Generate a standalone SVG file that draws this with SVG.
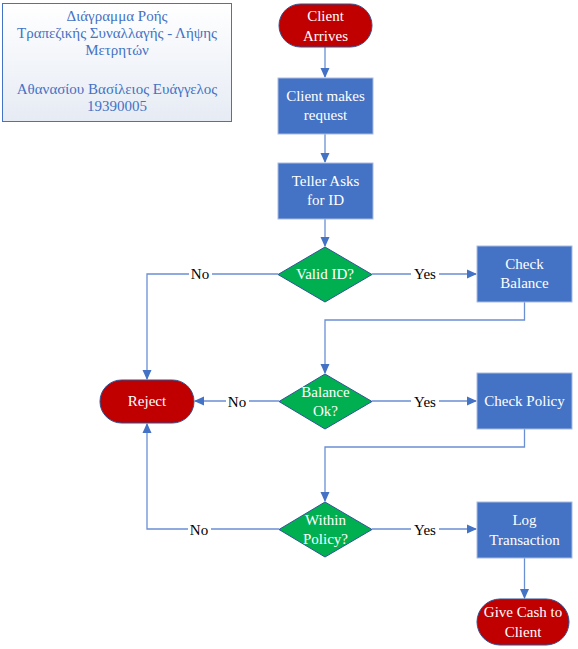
<svg xmlns="http://www.w3.org/2000/svg" width="578" height="649" viewBox="0 0 578 649" font-family="'Liberation Serif', 'Times New Roman', 'DejaVu Serif', serif">
<style>
text{font-family:'Liberation Serif','Times New Roman','DejaVu Serif',serif;font-size:15px;text-anchor:middle}
.w{fill:#fff}
.proc{fill:#4472C4;stroke:#A9BCE0;stroke-width:1}
.term{fill:#C00000;stroke:#2F4F8F;stroke-width:1}
.dec{fill:#00B050;stroke:#2F5597;stroke-width:1}
.c{fill:none;stroke:#6A8FD3;stroke-width:1.3}
.lbl{fill:#000}
.t{fill:#4472C4}
</style>
<defs>
<marker id="ah" markerWidth="10" markerHeight="10" refX="9" refY="5" orient="auto" markerUnits="userSpaceOnUse">
<path d="M0,0.5 L10,5 L0,9.5 Z" fill="#4472C4"/>
</marker>
<linearGradient id="tg" x1="0" y1="0" x2="0" y2="1">
<stop offset="0" stop-color="#ffffff"/>
<stop offset="1" stop-color="#E6EBF4"/>
</linearGradient>
</defs>
<g id="title">
<rect x="2.5" y="3.5" width="229" height="118" fill="url(#tg)" stroke="#4472C4" stroke-width="1"/>
<text class="t" x="117" y="21">Διάγραμμα Ροής</text>
<text class="t" x="117" y="38">Τραπεζικής Συναλλαγής - Λήψης</text>
<text class="t" x="117" y="55">Μετρητών</text>
<text class="t" x="117" y="94">Αθανασίου Βασίλειος Ευάγγελος</text>
<text class="t" x="117" y="111">19390005</text>
</g>
<g id="connectors">
<path class="c" d="M325,47 V77" marker-end="url(#ah)"/>
<path class="c" d="M325,134 V162" marker-end="url(#ah)"/>
<path class="c" d="M325,219 V246" marker-end="url(#ah)"/>
<path class="c" d="M372,274 H476" marker-end="url(#ah)"/>
<path class="c" d="M524.5,302 V320 H325 V373" marker-end="url(#ah)"/>
<path class="c" d="M278,274 H147 V379" marker-end="url(#ah)"/>
<path class="c" d="M279,401 H195" marker-end="url(#ah)"/>
<path class="c" d="M372,401 H476" marker-end="url(#ah)"/>
<path class="c" d="M524.5,429 V447 H325 V501" marker-end="url(#ah)"/>
<path class="c" d="M279,529 H147 V424" marker-end="url(#ah)"/>
<path class="c" d="M372,529 H476" marker-end="url(#ah)"/>
<path class="c" d="M524.5,558 V598" marker-end="url(#ah)"/>
<rect x="189" y="265" width="23" height="18" fill="#fff"/>
<text class="lbl" x="200" y="279">No</text>
<rect x="411" y="265" width="28" height="18" fill="#fff"/>
<text class="lbl" x="425" y="279">Yes</text>
<rect x="226" y="393" width="23" height="18" fill="#fff"/>
<text class="lbl" x="237" y="407">No</text>
<rect x="411" y="393" width="28" height="18" fill="#fff"/>
<text class="lbl" x="425" y="407">Yes</text>
<rect x="188" y="521" width="23" height="18" fill="#fff"/>
<text class="lbl" x="199" y="535">No</text>
<rect x="411" y="521" width="28" height="18" fill="#fff"/>
<text class="lbl" x="425" y="535">Yes</text>
</g>
<g id="client-arrives">
<rect class="term" x="279" y="4" width="93" height="43" rx="21.5"/>
<text class="w" x="325.5" y="21">Client</text>
<text class="w" x="325.5" y="41">Arrives</text>
</g>
<g id="client-makes-request">
<rect class="proc" x="278" y="78" width="95" height="56"/>
<text class="w" x="325.5" y="101">Client makes</text>
<text class="w" x="325.5" y="120">request</text>
</g>
<g id="teller-asks">
<rect class="proc" x="278" y="163" width="95" height="56"/>
<text class="w" x="325.5" y="186">Teller Asks</text>
<text class="w" x="325.5" y="205">for ID</text>
</g>
<g id="valid-id">
<path class="dec" d="M325,247 L372,274.5 L325,302 L278,274.5 Z"/>
<text class="w" x="325" y="279">Valid ID?</text>
</g>
<g id="check-balance">
<rect class="proc" x="477" y="246" width="95" height="56"/>
<text class="w" x="524.5" y="269">Check</text>
<text class="w" x="524.5" y="288">Balance</text>
</g>
<g id="balance-ok">
<path class="dec" d="M325,374 L372,401.5 L325,429 L279,401.5 Z"/>
<text class="w" x="325.5" y="397">Balance</text>
<text class="w" x="325.5" y="416">Ok?</text>
</g>
<g id="reject">
<rect class="term" x="100" y="380" width="94" height="43" rx="21.5"/>
<text class="w" x="147" y="406">Reject</text>
</g>
<g id="check-policy">
<rect class="proc" x="477" y="373" width="95" height="56"/>
<text class="w" x="524.5" y="406">Check Policy</text>
</g>
<g id="within-policy">
<path class="dec" d="M325,502 L372,529.5 L325,557 L279,529.5 Z"/>
<text class="w" x="325.5" y="525">Within</text>
<text class="w" x="325.5" y="544">Policy?</text>
</g>
<g id="log-transaction">
<rect class="proc" x="477" y="502" width="95" height="56"/>
<text class="w" x="524.5" y="525">Log</text>
<text class="w" x="524.5" y="545">Transaction</text>
</g>
<g id="give-cash">
<rect class="term" x="477" y="599" width="92" height="46" rx="23"/>
<text class="w" x="523" y="617">Give Cash to</text>
<text class="w" x="523" y="637">Client</text>
</g>
</svg>
